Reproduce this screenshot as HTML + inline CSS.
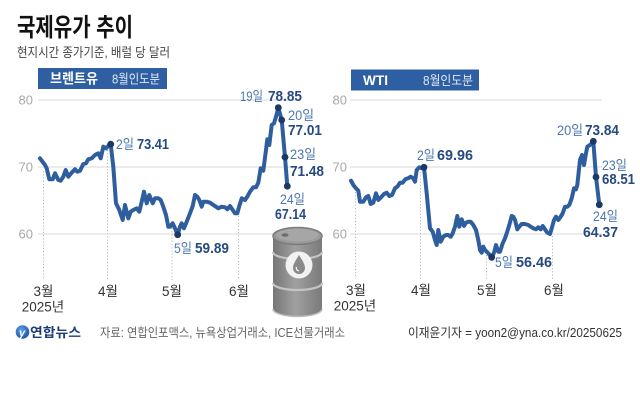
<!DOCTYPE html>
<html><head><meta charset="utf-8"><style>
html,body{margin:0;padding:0;background:#fff;}
svg{display:block;}
text{font-family:"Liberation Sans","Noto Sans CJK KR",sans-serif;}
.yl{font-size:13px;fill:#a8a8a8;text-anchor:end;}
.mo{font-size:13.5px;fill:#333;text-anchor:middle;}
.dl{font-size:13.5px;fill:#4d76b0;}
.nv{font-size:14.5px;fill:#264a82;font-weight:bold;}
.grid{stroke:#dadada;stroke-width:1;}
.tick{stroke:#b8b8b8;stroke-width:1;stroke-dasharray:1.2,2;}
.ln{fill:none;stroke:#2f5e9f;stroke-width:4;stroke-linejoin:round;stroke-linecap:round;}
.dot{fill:#1c3866;}
</style></head><body>
<svg width="640" height="400" viewBox="0 0 640 400" xmlns="http://www.w3.org/2000/svg">
<rect width="640" height="400" fill="#fff"/>
<text x="17" y="36" font-size="25" font-weight="bold" fill="#111" textLength="116" lengthAdjust="spacingAndGlyphs">국제유가 추이</text>
<text x="17" y="57" font-size="13" fill="#444" textLength="153" lengthAdjust="spacingAndGlyphs">현지시간 종가기준, 배럴 당 달러</text>

<rect x="38" y="68" width="129" height="21" fill="#2e5fa3"/>
<text x="50" y="83.5" font-size="14" font-weight="bold" fill="#fff" textLength="48" lengthAdjust="spacingAndGlyphs">브렌트유</text>
<text x="112" y="83.5" font-size="13" fill="#e2e9f4" textLength="48" lengthAdjust="spacingAndGlyphs">8월인도분</text>

<line class="grid" x1="38" y1="100" x2="300" y2="100"/>
<line class="grid" x1="38" y1="167" x2="300" y2="167"/>
<line class="grid" x1="38" y1="234" x2="300" y2="234"/>
<text class="yl" x="33" y="104.5">80</text>
<text class="yl" x="33" y="171.5">70</text>
<text class="yl" x="33" y="238.5">60</text>

<line class="tick" x1="43.5" y1="171" x2="43.5" y2="280"/>
<line class="tick" x1="107.5" y1="150" x2="107.5" y2="280"/>
<line class="tick" x1="172" y1="228" x2="172" y2="280"/>
<line class="tick" x1="238.5" y1="216" x2="238.5" y2="280"/>
<text class="mo" x="43.5" y="296">3월</text>
<text class="mo" x="43" y="311.5">2025년</text>
<text class="mo" x="108" y="296">4월</text>
<text class="mo" x="172" y="296">5월</text>
<text class="mo" x="239" y="296">6월</text>

<defs>
<linearGradient id="bg" x1="0" x2="1" y1="0" y2="0">
<stop offset="0" stop-color="#767676"/><stop offset="0.45" stop-color="#a0a0a0"/><stop offset="1" stop-color="#7a7a7a"/>
</linearGradient>
</defs>
<path d="M273,236 L273,309 A24.5,7.5 0 0 0 322,309 L322,236 Z" fill="url(#bg)"/>
<ellipse cx="297.5" cy="236" rx="24.5" ry="8.5" fill="#9a9a9a" stroke="#7c7c7c" stroke-width="1.5"/>
<ellipse cx="297.5" cy="235" rx="21" ry="6.5" fill="#a6a6a6"/>
<ellipse cx="285" cy="235" rx="3.5" ry="1.8" fill="#6e6e6e"/>
<path d="M273,252 A24.5,7 0 0 0 322,252" fill="none" stroke="#c4c4c4" stroke-width="2.2"/>
<path d="M273,283 A24.5,7 0 0 0 322,283" fill="none" stroke="#c4c4c4" stroke-width="2.2"/>
<path d="M273,309 A24.5,7.5 0 0 0 322,309" fill="none" stroke="#bdbdbd" stroke-width="1.5"/>
<circle cx="299" cy="265" r="13.5" fill="#f2f2f2"/>
<path d="M299,255 C296,260 293,264 293,268 A6,6 0 0 0 305,268 C305,264 302,260 299,255 Z" fill="#8a8a8a"/>
<path d="M296.5,267 A3,3 0 0 0 299,271" fill="none" stroke="#f2f2f2" stroke-width="1.3"/>

<path class="ln" d="M40,158.3 L45,165 46.7,168.3 49.3,179.3 52.7,179.3 55,173.3 58.3,180 60.7,180.7 63.3,176.7 65.7,170 68.3,176.7 71.7,172.7 75,169.3 77.3,171.7 80,170.7 83.3,164 86,163.3 88.3,159.3 91.7,158.3 95,155 98.3,153.3 100.7,158.3 103.3,146.7 106,148.3 108.3,146 110.7,144.2 113.3,166.7 116,203.3 119.3,210 122.7,220 125,205 128.3,218.3 130.7,211.7 133.3,210 136.7,208.3 139.3,211.7 141.7,201.7 144,191.7 146.7,203.3 149.3,195 152.7,203.3 155,198.3 158.3,198.3 160.7,200 163.3,206.7 166,215 168.3,226.7 170,226.7 172.7,223.3 175,228.3 177.7,234.7 180,226.7 181.7,223.3 184,228.3 186.7,221.7 190,213.3 192.7,206 195,195 197.3,196.7 199.3,200 201.7,206.7 203.3,201.7 206.7,201.7 210,202.7 213.3,205 216,206.7 218.3,208.3 221.7,206.7 225,207.3 227.3,209.3 230,206 232.7,210 235,213.3 237.3,213.3 239.3,206 241.7,198.3 245,200 247.3,196.7 250,191.7 253.3,187.3 256,187.3 258.3,182.7 260.7,168.3 263.3,170.7 266,150 267.3,139.3 269.3,145 271.7,125 274,123.3 276,116.7 278.3,107.7 281.7,120 285,157.1 287.3,186.2"/>
<circle class="dot" cx="110.7" cy="144.2" r="3.4"/>
<circle class="dot" cx="177.7" cy="234.7" r="3.4"/>
<circle class="dot" cx="278.3" cy="107.7" r="3.4"/>
<circle class="dot" cx="281.7" cy="120" r="3.4"/>
<circle class="dot" cx="285" cy="157.1" r="3.4"/>
<circle class="dot" cx="287.3" cy="186.2" r="3.4"/>

<text class="dl" x="116" y="149" textLength="18" lengthAdjust="spacingAndGlyphs">2일</text>
<text class="nv" x="137" y="149" textLength="32" lengthAdjust="spacingAndGlyphs">73.41</text>
<text class="dl" x="240" y="101" textLength="23" lengthAdjust="spacingAndGlyphs">19일</text>
<text class="nv" x="268" y="101" textLength="34" lengthAdjust="spacingAndGlyphs">78.85</text>
<text class="dl" x="288" y="120" textLength="26" lengthAdjust="spacingAndGlyphs">20일</text>
<text class="nv" x="288" y="135" textLength="34" lengthAdjust="spacingAndGlyphs">77.01</text>
<text class="dl" x="290" y="159" textLength="26" lengthAdjust="spacingAndGlyphs">23일</text>
<text class="nv" x="290" y="176" textLength="34" lengthAdjust="spacingAndGlyphs">71.48</text>
<text class="dl" x="280" y="204" textLength="25" lengthAdjust="spacingAndGlyphs">24일</text>
<text class="nv" x="275" y="219" textLength="31" lengthAdjust="spacingAndGlyphs">67.14</text>
<text class="dl" x="174" y="253" textLength="18" lengthAdjust="spacingAndGlyphs">5일</text>
<text class="nv" x="195" y="253" textLength="34" lengthAdjust="spacingAndGlyphs">59.89</text>

<rect x="351" y="69.5" width="128" height="21" fill="#2e5fa3"/>
<text x="363" y="85" font-size="14" font-weight="bold" fill="#fff" textLength="25" lengthAdjust="spacingAndGlyphs">WTI</text>
<text x="423" y="85" font-size="13" fill="#e2e9f4" textLength="50" lengthAdjust="spacingAndGlyphs">8월인도분</text>

<line class="grid" x1="350" y1="100" x2="602" y2="100"/>
<line class="grid" x1="350" y1="167" x2="602" y2="167"/>
<line class="grid" x1="350" y1="234" x2="602" y2="234"/>
<text class="yl" x="347" y="104.5">80</text>
<text class="yl" x="347" y="171.5">70</text>
<text class="yl" x="347" y="238.5">60</text>

<line class="tick" x1="355.5" y1="192" x2="355.5" y2="279"/>
<line class="tick" x1="420.5" y1="172" x2="420.5" y2="279"/>
<line class="tick" x1="486.5" y1="255" x2="486.5" y2="279"/>
<line class="tick" x1="552.5" y1="236" x2="552.5" y2="279"/>
<text class="mo" x="356" y="295">3월</text>
<text class="mo" x="355" y="310.5">2025년</text>
<text class="mo" x="421" y="295">4월</text>
<text class="mo" x="487" y="295">5월</text>
<text class="mo" x="554" y="295">6월</text>

<path class="ln" d="M351,180.7 L353.3,185 356,188.3 358.3,190.7 360,201.7 363.3,201.7 366,197.3 368.3,196 370.7,204 373.3,202.7 376,193.3 378.3,200 381,197.3 384,194 386.7,192.7 389.3,196 392,195 395,188.3 397.3,186.7 400,182.7 402.7,182.7 405.3,179.3 408,178.3 410.7,176.7 413.3,178.3 415,181.7 416.7,170 419.3,167.3 421.7,168.3 424,167.3 426.7,193.3 430,228.3 432.7,231.7 435,240 436.7,245 438.3,230 440.7,241.7 443.3,236.7 446,235 448.3,235 450.7,236.7 452.7,233.3 455,226.7 457.3,216 459.3,226.7 461.7,219.3 464,226 466,222.7 468.3,221.7 470.7,221.7 473.3,225 476,230 478.3,240 480,250 481.7,252.7 483.3,246.7 485,250 486.7,251.7 488.3,253.3 491.7,257.3 494,252.7 496,245 498.3,251.7 500,251.7 502.7,243.3 505,238.3 506.7,233.3 509.3,225 511.7,216 513.3,216.7 515,220 517.3,229.3 519.3,226.7 521.7,224 525,224 528.3,225 530.7,226.7 533.3,228.3 536,229.3 538.3,227.3 540.7,229.3 542.7,226 545,229.3 547.3,232.7 550,234 551.7,228.3 554,220 556,216.7 558.3,220 560.7,216.7 562.7,213.3 565,206.7 567.3,206.7 569.3,205 571.7,198.3 574,188.3 576,189.3 577.3,185 580,160 582,155 584,165 586,153.3 587.3,146.7 590,145 591.7,143.3 593.3,141.3 596,177 599.3,204.7"/>
<circle class="dot" cx="424" cy="167.3" r="3.4"/>
<circle class="dot" cx="491.7" cy="257.3" r="3.4"/>
<circle class="dot" cx="593.3" cy="141.3" r="3.4"/>
<circle class="dot" cx="596" cy="177" r="3.4"/>
<circle class="dot" cx="599.3" cy="204.7" r="3.4"/>

<text class="dl" x="417" y="160" textLength="18" lengthAdjust="spacingAndGlyphs">2일</text>
<text class="nv" x="437" y="160" textLength="36" lengthAdjust="spacingAndGlyphs">69.96</text>
<text class="dl" x="557" y="135" textLength="26" lengthAdjust="spacingAndGlyphs">20일</text>
<text class="nv" x="585" y="135" textLength="34" lengthAdjust="spacingAndGlyphs">73.84</text>
<text class="dl" x="602" y="170" textLength="25" lengthAdjust="spacingAndGlyphs">23일</text>
<text class="nv" x="602" y="184" textLength="33" lengthAdjust="spacingAndGlyphs">68.51</text>
<text class="dl" x="593" y="221" textLength="25" lengthAdjust="spacingAndGlyphs">24일</text>
<text class="nv" x="583" y="237" textLength="35" lengthAdjust="spacingAndGlyphs">64.37</text>
<text class="dl" x="495" y="267" textLength="18" lengthAdjust="spacingAndGlyphs">5일</text>
<text class="nv" x="516" y="267" textLength="36" lengthAdjust="spacingAndGlyphs">56.46</text>

<defs>
<radialGradient id="lg" cx="0.4" cy="0.35" r="0.7">
<stop offset="0" stop-color="#5aa0e8"/><stop offset="1" stop-color="#1d4fa6"/>
</radialGradient>
</defs>
<circle cx="22.5" cy="332" r="6.8" fill="url(#lg)"/>
<text x="19" y="336.5" font-size="11" font-style="italic" font-weight="bold" fill="#fff">y</text>
<text x="30" y="337" font-size="13" font-weight="bold" fill="#1d3c7c" textLength="51" lengthAdjust="spacingAndGlyphs">연합뉴스</text>
<text x="100" y="337" font-size="12.5" fill="#666" textLength="245" lengthAdjust="spacingAndGlyphs">자료: 연합인포맥스, 뉴욕상업거래소, ICE선물거래소</text>
<text x="408" y="337" font-size="12.5" fill="#333" textLength="214" lengthAdjust="spacingAndGlyphs">이재윤기자 = yoon2@yna.co.kr/20250625</text>
</svg>
</body></html>
